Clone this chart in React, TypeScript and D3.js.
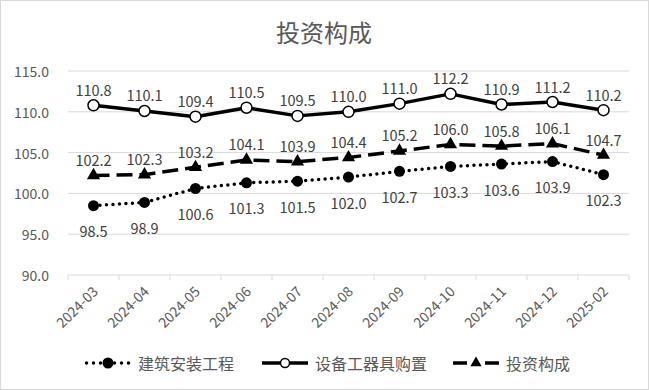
import React, { useEffect, useRef } from 'react';
import * as d3 from 'd3';

const months = ['2024-03', '2024-04', '2024-05', '2024-06', '2024-07', '2024-08', '2024-09', '2024-10', '2024-11', '2024-12', '2025-02'];
const jianzhu = [98.5, 98.9, 100.6, 101.3, 101.5, 102.0, 102.7, 103.3, 103.6, 103.9, 102.3];
const shebei = [110.8, 110.1, 109.4, 110.5, 109.5, 110.0, 111.0, 112.2, 110.9, 111.2, 110.2];
const touzi = [102.2, 102.3, 103.2, 104.1, 103.9, 104.4, 105.2, 106.0, 105.8, 106.1, 104.7];
const yTicks = [90, 95, 100, 105, 110, 115];
const seriesNames = ['建筑安装工程', '设备工器具购置', '投资构成'];

const FONT = '"Noto Sans CJK SC", "Noto Sans", sans-serif';

export default function App() {
  const ref = useRef<SVGSVGElement>(null);

  useEffect(() => {
    const width = 649,
      height = 390;
    const margin = { top: 71, right: 20, bottom: 115, left: 68 };
    const svg = d3.select(ref.current);
    svg.selectAll('*').remove();

    svg
      .append('rect')
      .attr('x', 0.5)
      .attr('y', 0.5)
      .attr('width', width - 1)
      .attr('height', height - 1)
      .attr('fill', '#fff')
      .attr('stroke', '#d9d9d9');

    svg
      .append('text')
      .attr('x', 324)
      .attr('y', 31)
      .attr('dominant-baseline', 'central')
      .attr('text-anchor', 'middle')
      .style('font-family', FONT)
      .style('font-size', '24px')
      .style('fill', '#595959')
      .text('投资构成');

    const x = d3
      .scaleBand()
      .domain(months)
      .range([margin.left, 629]);
    const y = d3
      .scaleLinear()
      .domain([90, 115])
      .range([height - margin.bottom, margin.top]);
    const cx = (d: string) => (x(d) as number) + x.bandwidth() / 2;

    // gridlines
    svg
      .append('g')
      .selectAll('line')
      .data(yTicks.slice(1))
      .enter()
      .append('line')
      .attr('x1', margin.left)
      .attr('x2', 629)
      .attr('y1', (d) => y(d))
      .attr('y2', (d) => y(d))
      .attr('stroke', '#d9d9d9')
      .attr('stroke-width', 1);

    // y labels
    svg
      .append('g')
      .selectAll('text')
      .data(yTicks)
      .enter()
      .append('text')
      .attr('x', 49)
      .attr('y', (d) => y(d))
      .attr('dominant-baseline', 'central')
      .attr('text-anchor', 'end')
      .style('font-family', FONT)
      .style('font-size', '14px')
      .style('fill', '#595959')
      .text((d) => d.toFixed(1));

    // x axis
    const xAxis = svg
      .append('g')
      .attr('transform', 'translate(0,' + y(90) + ')');
    xAxis
      .append('line')
      .attr('x1', margin.left)
      .attr('x2', 629)
      .attr('stroke', '#d9d9d9');
    const bounds = months.map((m) => x(m) as number).concat([629]);
    xAxis
      .selectAll('.tk')
      .data(bounds)
      .enter()
      .append('line')
      .attr('x1', (d) => d)
      .attr('x2', (d) => d)
      .attr('y1', 0)
      .attr('y2', 5)
      .attr('stroke', '#d9d9d9');
    xAxis
      .selectAll('text')
      .data(months)
      .enter()
      .append('text')
      .attr('transform', (d) => 'translate(' + (cx(d) + 2) + ',14) rotate(-45)')
      .attr('text-anchor', 'end')
      .attr('dy', '0.35em')
      .style('font-family', FONT)
      .style('font-size', '14px')
      .style('fill', '#595959')
      .text((d) => d);

    const line = d3
      .line<number>()
      .x((d, i) => cx(months[i]))
      .y((d) => y(d));

    // series lines
    svg
      .append('path')
      .datum(shebei)
      .attr('d', line)
      .attr('fill', 'none')
      .attr('stroke', '#000')
      .attr('stroke-width', 3.5)
      .attr('stroke-linejoin', 'round');
    svg
      .append('path')
      .datum(touzi)
      .attr('d', line)
      .attr('fill', 'none')
      .attr('stroke', '#000')
      .attr('stroke-width', 3.5)
      .attr('stroke-dasharray', '16,7');
    svg
      .append('path')
      .datum(jianzhu)
      .attr('d', line)
      .attr('fill', 'none')
      .attr('stroke', '#000')
      .attr('stroke-width', 3.5)
      .attr('stroke-linecap', 'round')
      .attr('stroke-dasharray', '0,6.5');

    const tri = d3.symbol().type(d3.symbolTriangle).size(75);

    svg
      .append('g')
      .selectAll('circle')
      .data(shebei)
      .enter()
      .append('circle')
      .attr('cx', (d, i) => cx(months[i]))
      .attr('cy', (d) => y(d))
      .attr('r', 5.5)
      .attr('fill', '#fff')
      .attr('stroke', '#000')
      .attr('stroke-width', 1.5);
    svg
      .append('g')
      .selectAll('circle')
      .data(jianzhu)
      .enter()
      .append('circle')
      .attr('cx', (d, i) => cx(months[i]))
      .attr('cy', (d) => y(d))
      .attr('r', 5.5)
      .attr('fill', '#000');
    svg
      .append('g')
      .selectAll('path')
      .data(touzi)
      .enter()
      .append('path')
      .attr('d', tri)
      .attr('transform', (d, i) => 'translate(' + cx(months[i]) + ',' + y(d) + ')')
      .attr('fill', '#000');

    // data labels
    const labels = (data: number[], dy: number) =>
      svg
        .append('g')
        .selectAll('text')
        .data(data)
        .enter()
        .append('text')
        .attr('x', (d, i) => cx(months[i]))
        .attr('y', (d) => y(d) + dy)
        .attr('dominant-baseline', 'central')
        .attr('text-anchor', 'middle')
        .style('font-family', FONT)
        .style('font-size', '14.5px')
        .style('fill', '#404040')
        .text((d) => d.toFixed(1));
    labels(shebei, -16);
    labels(touzi, -16);
    labels(jianzhu, 25);

    // legend
    const legend = svg
      .selectAll('.legend')
      .data(seriesNames)
      .enter()
      .append('g')
      .attr('class', 'legend')
      .attr('transform', (d, i) => 'translate(' + [85, 262, 453][i] + ',363)');
    legend
      .append('line')
      .attr('x1', (d, i) => (i === 0 ? 1.5 : 0))
      .attr('x2', 46)
      .attr('stroke', '#000')
      .attr('stroke-width', 3.5)
      .attr('stroke-linecap', (d, i) => (i === 0 ? 'round' : 'butt'))
      .attr('stroke-dasharray', (d, i) => (i === 0 ? '0,7' : i === 2 ? '14,18' : null));
    legend.each(function (d, i) {
      const g = d3.select(this);
      if (i === 0) g.append('circle').attr('cx', 23).attr('r', 5.5).attr('fill', '#000');
      if (i === 1)
        g.append('circle').attr('cx', 23).attr('r', 4.5).attr('fill', '#fff').attr('stroke', '#000').attr('stroke-width', 1.5);
      if (i === 2) g.append('path').attr('d', d3.symbol().type(d3.symbolTriangle).size(55)).attr('transform', 'translate(23,0)').attr('fill', '#000');
    });
    legend
      .append('text')
      .attr('x', 53)
      .attr('dominant-baseline', 'central')
      .style('font-family', FONT)
      .style('font-size', '16px')
      .style('fill', '#595959')
      .text((d) => d);
  }, []);

  return (
    <div style={{ position: 'fixed', left: 0, top: 0 }}>
      <svg ref={ref} width={649} height={390} style={{ display: 'block' }} />
    </div>
  );
}
